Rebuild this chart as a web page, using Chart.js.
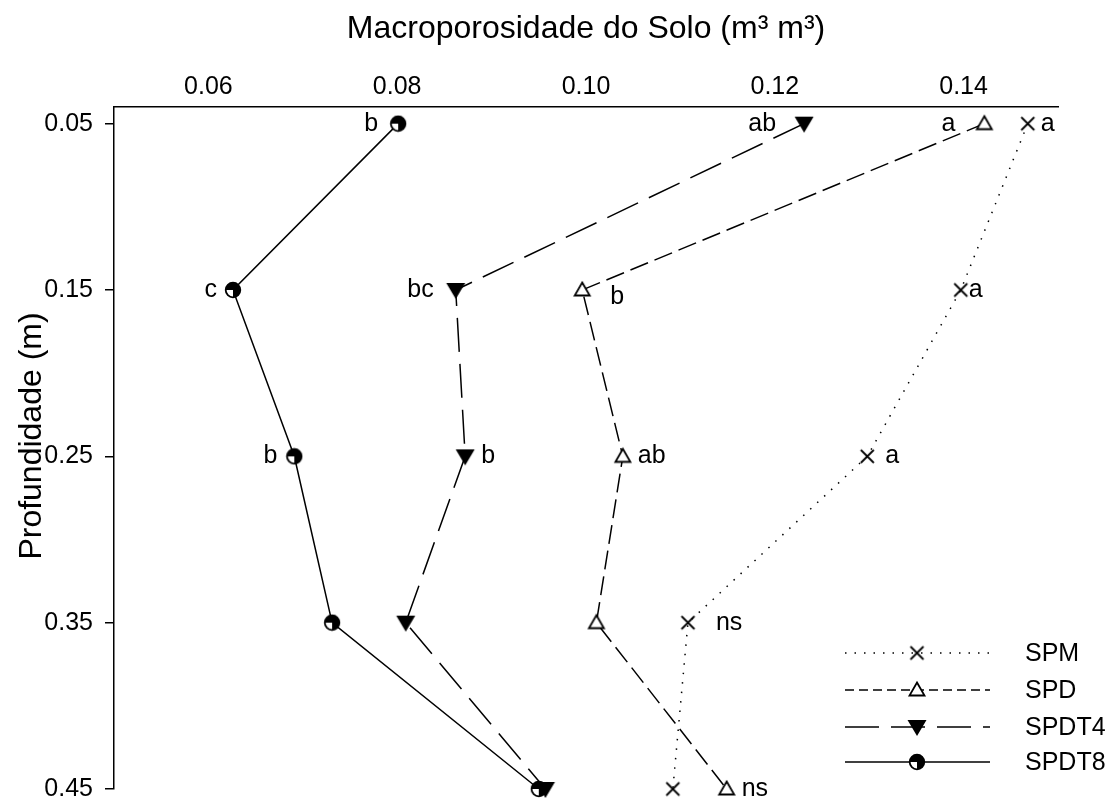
<!DOCTYPE html>
<html>
<head>
<meta charset="utf-8">
<script src="https://cdn.jsdelivr.net/npm/chart.js@4.4.1/dist/chart.umd.min.js"></script>
<style>
  body { margin: 0; background: #fff; }
</style>
</head>
<body>
<canvas id="grafico" width="1119" height="801"></canvas>
<script>
// profundidades (m)
const profundidades = [0.05, 0.15, 0.25, 0.35, 0.45];

// macroporosidade por sistema
const spm = [0.1468, 0.1397, 0.1298, 0.1108, 0.1092];
const spd = [0.1422, 0.0996, 0.1039, 0.1011, 0.1149];
const spdt4 = [0.1231, 0.0862, 0.0872, 0.0809, 0.0957];
const spdt8 = [0.0801, 0.0626, 0.0691, 0.0731, 0.0950];

// letras do teste de medias
const letrasSpm = ["a", "a", "a", "ns", ""];
const letrasSpd = ["a", "b", "ab", "", "ns"];
const letrasSpdt4 = ["ab", "bc", "b", "", ""];
const letrasSpdt8 = ["b", "c", "b", "", ""];

const nomes = ["SPM", "SPD", "SPDT4", "SPDT8"];
const xTicks = [0.06, 0.08, 0.10, 0.12, 0.14];
const yTicks = [0.05, 0.15, 0.25, 0.35, 0.45];

// deslocamento das letras em px (negativo = esquerda)
const dxLetras = [
  [13, 8, 18, 28, 0],
  [-29, 28, 15, 0, 15],
  [-28, -22, 16, 0, 0],
  [-20, -16, -17, 0, 0],
];
const dyLetras = [
  [0, 0, 0, 0, 0],
  [0, 7, 0, 0, 0],
  [0, 0, 0, 0, 0],
  [0, 0, 0, 0, 0],
];

const FONTE = '"Liberation Sans", Arial, sans-serif';

function novoCanvas(w, h) {
  const c = document.createElement("canvas");
  c.width = w;
  c.height = h;
  return c;
}

// marcadores
function marcaX() {
  const c = novoCanvas(17, 17);
  const g = c.getContext("2d");
  g.strokeStyle = "#000";
  g.lineWidth = 1.8;
  g.beginPath();
  g.moveTo(2, 2); g.lineTo(15, 15);
  g.moveTo(15, 2); g.lineTo(2, 15);
  g.stroke();
  return c;
}

function marcaTriAberto() {
  const c = novoCanvas(20, 20);
  const g = c.getContext("2d");
  g.strokeStyle = "#000";
  g.fillStyle = "#fff";
  g.lineWidth = 1.8;
  g.beginPath();
  g.moveTo(10, 2.5);
  g.lineTo(17.5, 15.5);
  g.lineTo(2.5, 15.5);
  g.closePath();
  g.fill();
  g.stroke();
  return c;
}

function marcaTriCheio() {
  const c = novoCanvas(22, 22);
  const g = c.getContext("2d");
  g.fillStyle = "#000";
  g.beginPath();
  g.moveTo(1.5, 4);
  g.lineTo(20.5, 4);
  g.lineTo(11, 20);
  g.closePath();
  g.fill();
  return c;
}

function marcaCirculo() {
  const c = novoCanvas(18, 18);
  const g = c.getContext("2d");
  const r = 7.3;
  g.fillStyle = "#fff";
  g.beginPath();
  g.arc(9, 9, r, 0, Math.PI * 2);
  g.fill();
  g.fillStyle = "#000";
  [[Math.PI, Math.PI * 1.5], [Math.PI * 1.5, Math.PI * 2], [0, Math.PI * 0.5]].forEach(([a, b]) => {
    g.beginPath();
    g.moveTo(9, 9);
    g.arc(9, 9, r, a, b);
    g.closePath();
    g.fill();
  });
  g.strokeStyle = "#000";
  g.lineWidth = 1.8;
  g.beginPath();
  g.arc(9, 9, r, 0, Math.PI * 2);
  g.stroke();
  return c;
}

const marcadores = [marcaX(), marcaTriAberto(), marcaTriCheio(), marcaCirculo()];
const tracos = [[1.5, 8], [19, 7], [34, 12], []];
const series = [spm, spd, spdt4, spdt8];
const letras = [letrasSpm, letrasSpd, letrasSpdt4, letrasSpdt8];

function pontos(valores) {
  return valores.map((v, i) => ({ x: v, y: profundidades[i] }));
}

const textos = {
  id: "textos",
  afterDatasetsDraw(chart) {
    const ctx = chart.ctx;
    const sx = chart.scales.x;
    const sy = chart.scales.y;
    const area = chart.chartArea;
    ctx.save();
    ctx.fillStyle = "#000";
    ctx.font = "25px " + FONTE;
    ctx.textBaseline = "middle";
    series.forEach((vals, i) => {
      vals.forEach((v, j) => {
        const t = letras[i][j];
        if (!t) return;
        const dx = dxLetras[i][j];
        ctx.textAlign = dx < 0 ? "right" : "left";
        ctx.fillText(t, sx.getPixelForValue(v) + dx, sy.getPixelForValue(profundidades[j]) + dyLetras[i][j]);
      });
    });

    // titulos
    ctx.textAlign = "center";
    ctx.textBaseline = "alphabetic";
    ctx.font = "32px " + FONTE;
    ctx.fillText("Macroporosidade do Solo (m³ m³)", (area.left + area.right) / 2, 38);
    ctx.save();
    ctx.translate(41, (area.top + area.bottom) / 2 - 12);
    ctx.rotate(-Math.PI / 2);
    ctx.font = "32px " + FONTE;
    ctx.fillText("Profundidade (m)", 0, 0);
    ctx.restore();

    // legenda
    const linhasY = [653, 690, 727, 762];
    ctx.font = "25px " + FONTE;
    ctx.textAlign = "left";
    ctx.textBaseline = "middle";
    nomes.forEach((nome, i) => {
      const y = linhasY[i];
      ctx.strokeStyle = "#000";
      ctx.lineWidth = 1.5;
      ctx.setLineDash(i === 1 ? [9, 5] : tracos[i]);
      ctx.beginPath();
      ctx.moveTo(845, y);
      ctx.lineTo(990, y);
      ctx.stroke();
      ctx.setLineDash([]);
      const m = marcadores[i];
      ctx.drawImage(m, 917 - m.width / 2, y - m.height / 2);
      ctx.fillText(nome, 1025, y + 1);
    });
    ctx.restore();
  },
};

new Chart(document.getElementById("grafico"), {
  type: "scatter",
  data: {
    datasets: series.map((vals, i) => ({
      label: nomes[i],
      data: pontos(vals),
      showLine: true,
      clip: false,
      borderColor: "#000",
      borderWidth: 1.5,
      borderDash: tracos[i],
      pointStyle: marcadores[i],
      pointRadius: 8,
      pointHoverRadius: 8,
      fill: false,
      tension: 0,
    })),
  },
  options: {
    responsive: false,
    animation: false,
    devicePixelRatio: 1,
    layout: { padding: { top: 0, left: 0, right: 61, bottom: 12 } },
    plugins: {
      legend: { display: false },
      tooltip: { enabled: false },
    },
    scales: {
      x: {
        type: "linear",
        position: "top",
        min: 0.05,
        max: 0.15,
        grid: { display: false, drawTicks: false },
        border: { display: true, color: "#000", width: 1.5 },
        ticks: {
          color: "#000",
          padding: 5,
          font: { family: FONTE, size: 25 },
          callback: (v) => v.toFixed(2),
        },
        afterBuildTicks: (s) => { s.ticks = xTicks.map((v) => ({ value: v })); },
        afterFit: (s) => { s.height = 107; s.paddingLeft = 0; s.paddingRight = 0; },
      },
      y: {
        type: "linear",
        reverse: true,
        min: 0.04,
        max: 0.45,
        grid: { display: true, drawOnChartArea: false, drawTicks: true, tickLength: 9, color: "#000", lineWidth: 1.5 },
        border: { display: true, color: "#000", width: 1.5 },
        ticks: {
          color: "#000",
          padding: 12,
          font: { family: FONTE, size: 25 },
          callback: (v) => v.toFixed(2),
        },
        afterBuildTicks: (s) => { s.ticks = yTicks.map((v) => ({ value: v })); },
        afterFit: (s) => { s.width = 114; s.paddingTop = 0; s.paddingBottom = 0; },
      },
    },
  },
  plugins: [textos],
});
</script>
</body>
</html>
